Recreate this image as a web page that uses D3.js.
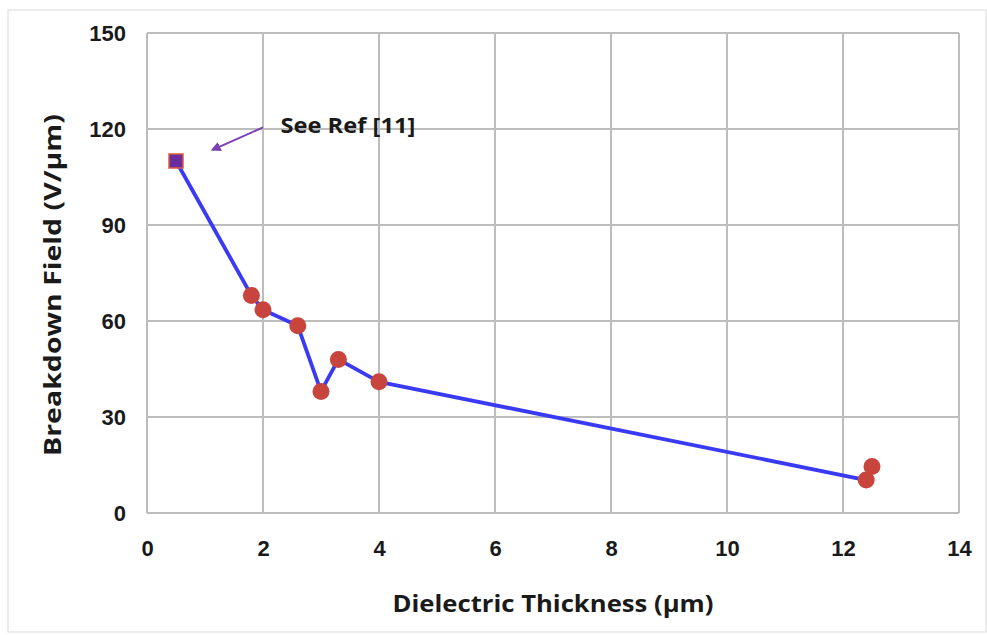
<!DOCTYPE html>
<html>
<head>
<meta charset="utf-8">
<script src="https://cdn.jsdelivr.net/npm/d3@7"></script>
<style>
  body { margin: 0; background: #fff; }
  svg { display: block; }
</style>
</head>
<body>
<div id="chart"></div>
<script>
// data
var refThickness = [0.5];
var refField = [110];
var thickness = [1.8, 2.0, 2.6, 3.0, 3.3, 4.0, 12.4, 12.5];
var field = [68, 63.5, 58.5, 38, 48, 41, 10.3, 14.5];
var xTicks = [0, 2, 4, 6, 8, 10, 12, 14];
var yTicks = [0, 30, 60, 90, 120, 150];
var xTitle = "Dielectric Thickness (\u00b5m)";
var yTitle = "Breakdown Field (V/\u00b5m)";
var note = "See Ref [11]";

var width = 987, height = 635;
var margin = {top: 33, right: 28, bottom: 122, left: 147};
var innerWidth = width - margin.left - margin.right,
    innerHeight = height - margin.top - margin.bottom;

var svg = d3.select("#chart").append("svg")
    .attr("width", width)
    .attr("height", height);

// faint outer frame
svg.append("rect")
    .attr("x", 8).attr("y", 10)
    .attr("width", width - 9).attr("height", 622)
    .attr("fill", "none")
    .attr("stroke", "#e6e6e6")
    .attr("stroke-width", 1.5);

var g = svg.append("g")
    .attr("transform", "translate(" + margin.left + "," + margin.top + ")");

var xScale = d3.scaleLinear().domain([0, 14]).range([0, innerWidth]);
var yScale = d3.scaleLinear().domain([0, 150]).range([innerHeight, 0]);

// gridlines
var grid = g.append("g").attr("class", "grid");
grid.selectAll("line.v").data(xTicks).enter().append("line")
    .attr("class", "v")
    .attr("x1", function(d) { return xScale(d); })
    .attr("x2", function(d) { return xScale(d); })
    .attr("y1", 0).attr("y2", innerHeight)
    .attr("stroke", "#bdbdbd").attr("stroke-width", 2);

grid.selectAll("line.h").data(yTicks).enter().append("line")
    .attr("class", "h")
    .attr("x1", 0).attr("x2", innerWidth)
    .attr("y1", function(d) { return yScale(d); })
    .attr("y2", function(d) { return yScale(d); })
    .attr("stroke", "#bdbdbd").attr("stroke-width", 2);

// axes (labels only, the grid does the lines)
var xAxis = g.append("g")
    .attr("transform", "translate(0," + innerHeight + ")")
    .call(d3.axisBottom(xScale).tickValues(xTicks).tickSize(0).tickPadding(27));
var yAxis = g.append("g")
    .call(d3.axisLeft(yScale).tickValues(yTicks).tickSize(0).tickPadding(21));

[xAxis, yAxis].forEach(function(a) {
  a.select(".domain").remove();
  a.selectAll("text")
    .attr("font-family", "'Liberation Sans', Arial, sans-serif")
    .attr("font-size", "22px")
    .attr("font-weight", "bold")
    .attr("fill", "#1a1a1a");
});

// line through all points
var allPts = refThickness.map(function(d, i) { return [d, refField[i]]; })
  .concat(thickness.map(function(d, i) { return [d, field[i]]; }));

var line = d3.line()
    .x(function(d) { return xScale(d[0]); })
    .y(function(d) { return yScale(d[1]); });

g.append("path")
    .datum(allPts)
    .attr("d", line)
    .attr("fill", "none")
    .attr("stroke", "#3a3af4")
    .attr("stroke-width", 3.8)
    .attr("stroke-linejoin", "round");

g.selectAll(".dot")
    .data(thickness).enter().append("circle")
    .attr("class", "dot")
    .attr("cx", function(d) { return xScale(d); })
    .attr("cy", function(d, i) { return yScale(field[i]); })
    .attr("r", 8.5)
    .attr("fill", "#c8453d");

g.selectAll(".ref")
    .data(refThickness).enter().append("rect")
    .attr("class", "ref")
    .attr("x", function(d) { return xScale(d) - 7; })
    .attr("y", function(d, i) { return yScale(refField[i]) - 7; })
    .attr("width", 14).attr("height", 14)
    .attr("fill", "#6a2d9e")
    .attr("stroke", "#dc5a46")
    .attr("stroke-width", 1.5);

// annotation arrow
svg.append("defs").append("marker")
    .attr("id", "head")
    .attr("viewBox", "0 0 10 10")
    .attr("refX", 8).attr("refY", 5)
    .attr("markerWidth", 5).attr("markerHeight", 5)
    .attr("orient", "auto")
  .append("path")
    .attr("d", "M0,0L10,5L0,10z")
    .attr("fill", "#7a3fb3");

g.append("line")
    .attr("x1", xScale(2.0)).attr("y1", yScale(120.5))
    .attr("x2", xScale(1.13)).attr("y2", yScale(113.5))
    .attr("stroke", "#7a3fb3")
    .attr("stroke-width", 2)
    .attr("marker-end", "url(#head)");

g.append("text")
    .attr("x", xScale(2.3))
    .attr("y", yScale(118.8))
    .attr("font-family", "'Open Sans', sans-serif")
    .attr("font-size", "22px")
    .attr("font-weight", "bold")
    .attr("fill", "#1a1a1a")
    .attr("textLength", 135)
    .attr("lengthAdjust", "spacingAndGlyphs")
    .text(note);

// axis titles
svg.append("text")
    .attr("x", margin.left + innerWidth / 2)
    .attr("y", 612)
    .attr("text-anchor", "middle")
    .attr("font-family", "'Open Sans', sans-serif")
    .attr("font-size", "23px")
    .attr("font-weight", "bold")
    .attr("fill", "#1a1a1a")
    .attr("textLength", 321)
    .attr("lengthAdjust", "spacingAndGlyphs")
    .text(xTitle);

svg.append("text")
    .attr("transform", "translate(61,285) rotate(-90)")
    .attr("text-anchor", "middle")
    .attr("font-family", "'Open Sans', sans-serif")
    .attr("font-size", "23px")
    .attr("font-weight", "bold")
    .attr("fill", "#1a1a1a")
    .attr("textLength", 342)
    .attr("lengthAdjust", "spacingAndGlyphs")
    .text(yTitle);
</script>
</body>
</html>
